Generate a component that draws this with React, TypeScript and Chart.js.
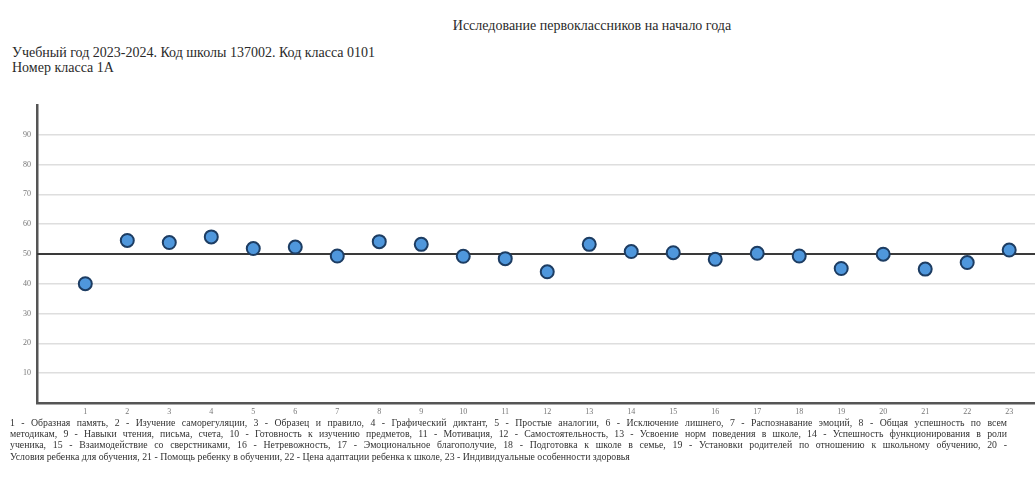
import React, { useEffect, useRef } from "react";
import { Chart, registerables } from "chart.js";

Chart.register(...registerables);

const titleText = "Исследование первоклассников на начало года";
const subtitleLines = [
  "Учебный год 2023-2024. Код школы 137002. Код класса 0101",
  "Номер класса 1А",
];
const categories = [1, 2, 3, 4, 5, 6, 7, 8, 9, 10, 11, 12, 13, 14, 15, 16, 17, 18, 19, 20, 21, 22, 23];
const values = [40, 54.5, 53.8, 55.7, 51.8, 52.3, 49.3, 54.1, 53.2, 49.2, 48.4, 44, 53.2, 50.8, 50.4, 48.2, 50.2, 49.3, 45.1, 49.9, 44.9, 47.1, 51.3];
const normLevel = 50;
const yTickValues = [10, 20, 30, 40, 50, 60, 70, 80, 90];
const footnoteLines = [
  "1 - Образная память, 2 - Изучение саморегуляции, 3 - Образец и правило, 4 - Графический диктант, 5 - Простые аналогии, 6 - Исключение лишнего, 7 - Распознавание эмоций, 8 - Общая успешность по всем",
  "методикам, 9 - Навыки чтения, письма, счета, 10 - Готовность к изучению предметов, 11 - Мотивация, 12 - Самостоятельность, 13 - Усвоение норм поведения в школе, 14 - Успешность функционирования в роли",
  "ученика, 15 - Взаимодействие со сверстниками, 16 - Нетревожность, 17 - Эмоциональное благополучие, 18 - Подготовка к школе в семье, 19 - Установки родителей по отношению к школьному обучению, 20 -",
  "Условия ребенка для обучения, 21 - Помощь ребенку в обучении, 22 - Цена адаптации ребенка к школе, 23 - Индивидуальные особенности здоровья",
];

const FONT = '"Liberation Serif", "DejaVu Serif", serif';

const normLinePlugin = {
  id: "normLine",
  beforeDatasetsDraw(chart: any) {
    const { ctx, chartArea, scales } = chart;
    const y = scales.y.getPixelForValue(normLevel);
    ctx.save();
    ctx.strokeStyle = "#3a3a3a";
    ctx.lineWidth = 2;
    ctx.beginPath();
    ctx.moveTo(chartArea.left, y);
    ctx.lineTo(chartArea.right, y);
    ctx.stroke();
    ctx.restore();
  },
};

const CANVAS_W = 1045;
const CANVAS_TOP = 94;
const CANVAS_H = 326;

export default function App() {
  const canvasRef = useRef<HTMLCanvasElement | null>(null);

  useEffect(() => {
    if (!canvasRef.current) return;
    const chart = new Chart(canvasRef.current, {
      type: "scatter",
      data: {
        datasets: [
          {
            data: categories.map((c, i) => ({ x: c, y: values[i] })),
            pointRadius: 6.5,
            pointHoverRadius: 6.5,
            pointBackgroundColor: "#4f97dc",
            pointBorderColor: "#1d3d63",
            pointBorderWidth: 2,
            showLine: false,
          },
        ],
      },
      options: {
        animation: false,
        responsive: false,
        maintainAspectRatio: false,
        layout: { padding: { top: 0, right: 0, left: 0, bottom: 0 } },
        plugins: {
          legend: { display: false },
          title: { display: false },
          tooltip: { enabled: false },
        },
        scales: {
          x: {
            type: "linear",
            min: -0.15,
            max: 23.65,
            afterBuildTicks: (scale: any) => {
              scale.ticks = categories.map((v) => ({ value: v }));
            },
            afterFit: (scale: any) => {
              scale.height = 17;
            },
            grid: { display: false, drawTicks: false },
            border: { display: true, color: "#555", width: 2.5 },
            ticks: {
              padding: 4,
              color: "#777",
              font: { family: FONT, size: 8 },
              maxRotation: 0,
              autoSkip: false,
            },
          },
          y: {
            min: 0,
            max: 100,
            afterBuildTicks: (scale: any) => {
              scale.ticks = yTickValues.map((v) => ({ value: v }));
            },
            afterFit: (scale: any) => {
              scale.width = 37;
            },
            grid: { color: "#dedede", lineWidth: 1.5, drawTicks: false },
            border: { display: true, color: "#555", width: 2.5 },
            ticks: {
              padding: 6,
              color: "#777",
              font: { family: FONT, size: 8 },
            },
          },
        },
      },
      plugins: [normLinePlugin],
    });
    return () => chart.destroy();
  }, []);

  return (
    <div
      style={{
        position: "absolute",
        left: 0,
        top: 0,
        width: 1035,
        height: 479,
        background: "#fff",
        fontFamily: FONT,
        color: "#2a2a2a",
        overflow: "hidden",
      }}
    >
      <div
        style={{
          position: "absolute",
          left: 592,
          top: 17,
          transform: "translateX(-50%)",
          fontSize: 14,
          lineHeight: "17px",
          whiteSpace: "nowrap",
        }}
      >
        {titleText}
      </div>
      <div
        style={{
          position: "absolute",
          left: 12,
          top: 46,
          fontSize: 14,
          lineHeight: "14.5px",
          whiteSpace: "nowrap",
        }}
      >
        {subtitleLines.map((l, i) => (
          <div key={i}>{l}</div>
        ))}
      </div>
      <canvas
        ref={canvasRef}
        width={CANVAS_W}
        height={CANVAS_H}
        style={{ position: "absolute", left: 0, top: CANVAS_TOP, width: CANVAS_W, height: CANVAS_H }}
      />
      <div
        style={{
          position: "absolute",
          left: 10,
          top: 417,
          width: 997,
          fontSize: 9.8,
          lineHeight: "11.2px",
          whiteSpace: "nowrap",
          color: "#333",
        }}
      >
        {footnoteLines.map((l, i) => (
          <div
            key={i}
            style={{
              textAlign: i < footnoteLines.length - 1 ? "justify" : "left",
              textAlignLast: i < footnoteLines.length - 1 ? "justify" : "left",
              whiteSpace: "normal",
            }}
          >
            {l}
          </div>
        ))}
      </div>
    </div>
  );
}
